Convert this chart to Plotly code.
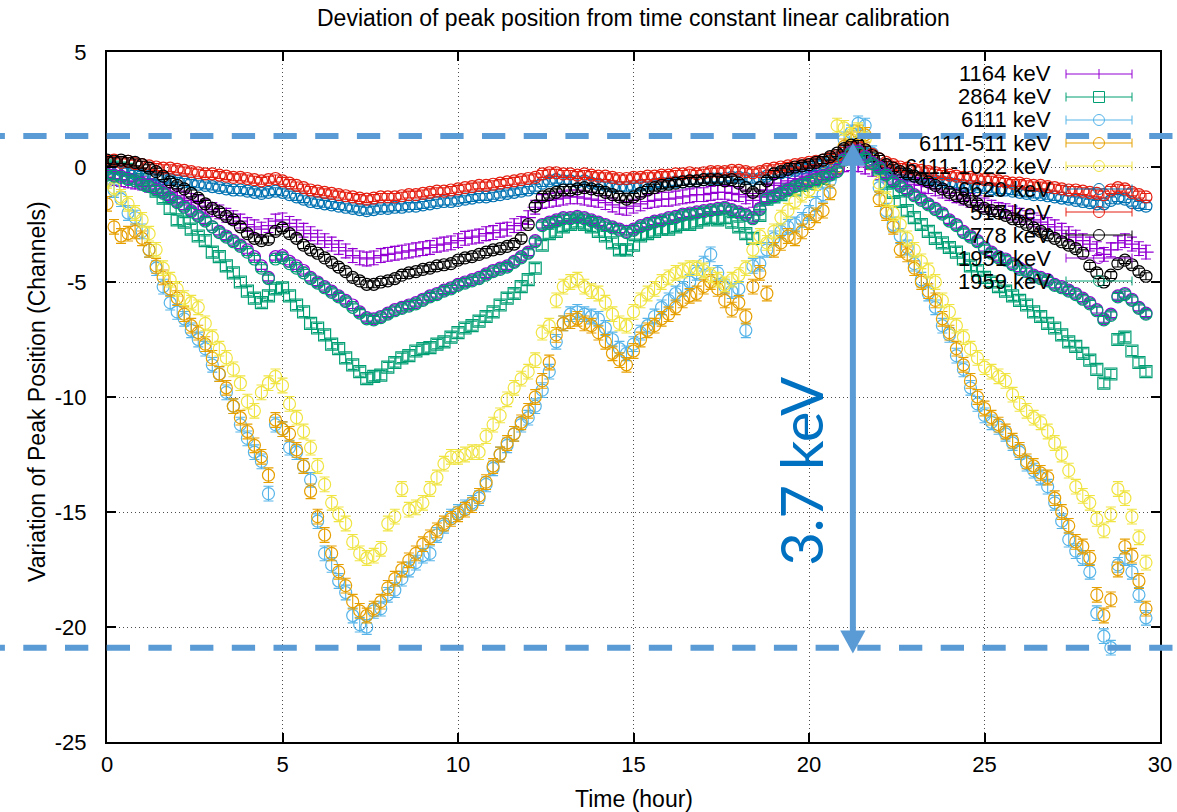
import plotly.graph_objects as go

# Measurement times (hours since start of run)
TIME_HOURS = [
    0.0, 0.2, 0.4, 0.6, 0.8, 1.0, 1.2, 1.4, 1.6, 1.8,
    2.0, 2.2, 2.4, 2.6, 2.8, 3.0, 3.2, 3.4, 3.6, 3.8,
    4.0, 4.2, 4.4, 4.6, 4.8, 5.0, 5.2, 5.4, 5.6, 5.8,
    6.0, 6.2, 6.4, 6.6, 6.8, 7.0, 7.2, 7.4, 7.6, 7.8,
    8.0, 8.2, 8.4, 8.6, 8.8, 9.0, 9.2, 9.4, 9.6, 9.8,
    10.0, 10.2, 10.4, 10.6, 10.8, 11.0, 11.2, 11.4, 11.6, 11.8,
    12.0, 12.2, 12.4, 12.6, 12.8, 13.0, 13.2, 13.4, 13.6, 13.8,
    14.0, 14.2, 14.4, 14.6, 14.8, 15.0, 15.2, 15.4, 15.6, 15.8,
    16.0, 16.2, 16.4, 16.6, 16.8, 17.0, 17.2, 17.4, 17.6, 17.8,
    18.0, 18.2, 18.4, 18.6, 18.8, 19.0, 19.2, 19.4, 19.6, 19.8,
    20.0, 20.2, 20.4, 20.6, 20.8, 21.0, 21.2, 21.4, 21.6, 21.8,
    22.0, 22.2, 22.4, 22.6, 22.8, 23.0, 23.2, 23.4, 23.6, 23.8,
    24.0, 24.2, 24.4, 24.6, 24.8, 25.0, 25.2, 25.4, 25.6, 25.8,
    26.0, 26.2, 26.4, 26.6, 26.8, 27.0, 27.2, 27.4, 27.6, 27.8,
    28.0, 28.2, 28.4, 28.6, 28.8, 29.0, 29.2, 29.4, 29.6,
]

# Peak position deviation (channels) per gamma line
DEV_1164 = [
    -0.45, -0.5, -0.55, -0.6, -0.65, -0.7, -0.8, -0.85, -0.95, -1.1,
    -1.25, -1.35, -1.45, -1.55, -1.7, -1.85, -1.95, -2.1, -2.2, -2.35,
    -2.5, -2.6, -2.7, -2.55, -2.35, -2.3, -2.45, -2.6, -2.75, -2.9,
    -3.05, -3.2, -3.35, -3.5, -3.65, -3.85, -3.95, -4.0, -3.95, -3.85,
    -3.8, -3.75, -3.7, -3.65, -3.6, -3.55, -3.5, -3.4, -3.35, -3.3,
    -3.2, -3.1, -3.05, -3.0, -2.9, -2.85, -2.75, -2.7, -2.55, -2.45,
    -2.2, -1.75, -1.5, -1.45, -1.4, -1.35, -1.3, -1.3, -1.35, -1.4,
    -1.45, -1.55, -1.65, -1.75, -1.8, -1.7, -1.6, -1.5, -1.45, -1.4,
    -1.4, -1.35, -1.3, -1.25, -1.2, -1.2, -1.15, -1.1, -1.1, -1.15,
    -1.2, -1.3, -1.45, -1.3, -1.0, -0.8, -0.7, -0.6, -0.5, -0.4,
    -0.3, -0.2, -0.15, -0.1, 0.0, 0.1, 0.15, 0.1, 0.0, -0.1,
    -0.25, -0.35, -0.45, -0.55, -0.65, -0.75, -0.8, -0.85, -0.95, -1.05,
    -1.15, -1.25, -1.35, -1.45, -1.55, -1.65, -1.75, -1.85, -1.9, -2.0,
    -2.1, -2.2, -2.3, -2.4, -2.5, -2.6, -2.75, -2.9, -3.05, -3.2,
    -3.35, -3.55, -3.8, -3.6, -3.3, -3.2, -3.35, -3.55, -3.7,
]

DEV_2864 = [
    0.05, 0.0, -0.05, -0.1, -0.25, -0.55, -0.8, -1.05, -1.35, -1.8,
    -2.3, -2.4, -2.7, -3.0, -3.2, -3.7, -3.9, -4.3, -4.6, -5.0,
    -5.4, -5.7, -5.9, -5.6, -5.3, -5.25, -5.6, -6.0, -6.3, -6.8,
    -7.0, -7.3, -7.7, -7.9, -8.3, -8.6, -8.9, -9.2, -9.1, -9.05,
    -8.7, -8.5, -8.3, -8.2, -8.0, -7.9, -7.85, -7.7, -7.6, -7.4,
    -7.2, -7.0, -6.9, -6.7, -6.5, -6.3, -6.0, -5.7, -5.5, -5.2,
    -4.9, -4.4, -3.4, -2.9, -2.8, -2.6, -2.5, -2.4, -2.5, -2.6,
    -2.8, -3.0, -3.3, -3.6, -3.6, -3.4, -3.0, -2.9, -2.8, -2.7,
    -2.7, -2.6, -2.5, -2.5, -2.4, -2.3, -2.2, -2.3, -2.2, -2.4,
    -2.6, -2.9, -3.1, -2.1, -1.4, -1.3, -1.2, -1.0, -1.0, -0.8,
    -0.7, -0.6, -0.5, -0.3, 0.0, 0.5, 0.8, 0.9, 0.6, 0.2,
    -0.1, -0.7, -1.1, -1.5, -1.9, -2.2, -2.5, -2.8, -3.1, -3.3,
    -3.5, -3.7, -4.0, -4.3, -4.5, -4.8, -5.0, -5.2, -5.4, -5.6,
    -5.8, -6.0, -6.3, -6.5, -6.8, -7.0, -7.3, -7.6, -7.8, -8.1,
    -8.4, -8.8, -9.4, -9.0, -7.5, -7.4, -8.0, -8.5, -8.9,
]

DEV_6111 = [
    -0.5, -1.0, -1.4, -2.0, -2.2, -2.8, -3.6, -4.4, -5.2, -5.9,
    -6.3, -6.6, -7.1, -7.5, -7.9, -8.6, -9.0, -9.8, -10.4, -11.2,
    -11.8, -12.4, -12.8, -14.2, -11.2, -11.4, -12.2, -12.4, -13.0, -13.6,
    -15.4, -16.8, -17.3, -18.0, -18.5, -19.5, -19.9, -20.0, -19.3, -19.2,
    -18.6, -18.4, -17.9, -17.5, -17.2, -16.9, -16.8, -16.0, -15.6, -15.2,
    -15.0, -14.8, -14.6, -14.4, -13.8, -13.1, -12.5, -12.1, -11.6, -11.2,
    -10.9, -10.4, -9.7, -8.9, -7.6, -6.8, -6.4, -6.3, -6.4, -6.5,
    -6.6, -7.0, -7.5, -7.9, -8.1, -7.7, -7.2, -6.9, -6.5, -6.1,
    -5.8, -5.5, -5.3, -5.0, -4.6, -4.2, -3.8, -4.6, -5.2, -5.4,
    -5.3, -7.1, -4.3, -4.2, -3.6, -3.1, -2.8, -2.6, -2.5, -2.3,
    -2.0, -1.6, -1.2, -0.6, 0.3, 1.2, 1.5, 1.9, 1.8, 0.6,
    -0.9, -1.9, -2.5, -3.0, -3.5, -4.2, -4.9, -5.5, -6.1, -6.9,
    -7.3, -8.2, -8.8, -9.6, -10.3, -10.8, -11.1, -11.3, -11.6, -12.0,
    -12.4, -12.9, -13.2, -13.5, -13.9, -14.6, -15.4, -16.2, -16.7, -17.0,
    -17.6, -19.4, -20.4, -20.9, -17.3, -17.0, -17.6, -18.6, -19.6,
]

DEV_6111_511 = [
    -1.6, -2.6, -3.0, -2.9, -2.8, -3.1, -3.6, -4.3, -4.8, -5.3,
    -5.7, -6.4, -6.9, -7.2, -7.7, -8.3, -9.0, -9.6, -10.4, -10.9,
    -11.5, -12.1, -12.6, -13.4, -11.0, -11.4, -11.6, -12.3, -13.0, -14.1,
    -15.2, -16.0, -16.8, -17.6, -18.2, -18.9, -19.3, -19.5, -19.2, -18.9,
    -18.3, -17.9, -17.5, -17.1, -16.8, -16.4, -16.1, -15.8, -15.5, -15.3,
    -15.1, -14.9, -14.7, -14.3, -13.7, -13.0, -12.5, -12.0, -11.6, -11.1,
    -10.6, -10.0, -9.3, -8.5, -7.3, -6.8, -6.7, -6.6, -6.8, -6.9,
    -7.2, -7.6, -8.1, -8.4, -8.6, -8.0, -7.5, -7.1, -6.9, -6.6,
    -6.4, -6.1, -5.8, -5.6, -5.5, -5.2, -5.0, -5.3, -5.8, -6.2,
    -5.9, -6.5, -5.2, -4.6, -5.5, -3.6, -3.3, -3.0, -3.1, -2.8,
    -2.4, -2.1, -1.9, -1.1, 0.0, 0.9, 1.2, 1.5, 1.4, 0.2,
    -1.4, -2.0, -2.6, -3.6, -3.8, -4.4, -5.0, -5.4, -5.8, -6.6,
    -7.2, -7.9, -8.6, -9.3, -10.0, -10.5, -10.9, -11.2, -11.5, -11.9,
    -12.3, -12.8, -13.0, -13.3, -13.5, -14.4, -15.0, -15.6, -16.3, -16.5,
    -17.0, -18.6, -19.5, -18.8, -17.5, -16.5, -16.9, -18.0, -19.2,
]

DEV_6111_1022 = [
    -0.6, -0.9, -1.3, -1.6, -2.0, -2.3, -2.9, -3.6, -4.4, -4.9,
    -5.3, -5.7, -5.9, -6.1, -6.8, -7.4, -7.9, -8.3, -8.8, -9.4,
    -10.2, -10.6, -9.8, -9.4, -9.1, -9.5, -10.3, -10.9, -11.5, -12.2,
    -13.0, -13.8, -14.6, -15.1, -15.5, -16.3, -16.8, -17.0, -16.9, -16.6,
    -15.5, -15.2, -14.0, -14.9, -14.8, -14.6, -14.0, -13.5, -12.9, -12.6,
    -12.6, -12.5, -12.4, -12.4, -11.7, -11.2, -10.8, -10.1, -9.6, -9.2,
    -8.9, -8.4, -7.2, -6.9, -5.8, -5.2, -5.0, -4.9, -5.2, -5.4,
    -5.5, -5.9, -6.4, -6.8, -6.9, -6.3, -5.8, -5.5, -5.3, -5.0,
    -4.8, -4.6, -4.5, -4.4, -4.4, -4.5, -4.7, -4.9, -5.1, -4.9,
    -4.7, -4.4, -3.6, -3.0, -3.3, -2.8, -2.2, -1.9, -1.5, -1.2,
    -1.0, -0.7, -0.4, 0.2, 1.8, 1.7, 1.4, 1.6, 1.2, 0.3,
    -0.7, -1.4, -2.0, -2.5, -3.1, -3.6, -4.1, -4.5, -5.0, -5.8,
    -6.3, -6.9, -7.4, -7.9, -8.3, -8.7, -8.9, -9.1, -9.3, -9.9,
    -10.3, -10.6, -10.9, -11.1, -11.5, -12.0, -12.5, -13.2, -13.9, -14.3,
    -14.6, -15.3, -15.8, -15.1, -14.0, -14.4, -15.2, -16.1, -17.2,
]

DEV_6620 = [
    -0.1, -0.05, -0.15, -0.2, -0.3, -0.35, -0.4, -0.45, -0.5, -0.55,
    -0.6, -0.65, -0.7, -0.75, -0.8, -0.85, -0.9, -0.95, -1.0, -1.0,
    -1.05, -1.1, -1.15, -1.1, -1.05, -1.1, -1.2, -1.3, -1.4, -1.5,
    -1.55, -1.6, -1.65, -1.7, -1.75, -1.8, -1.85, -1.9, -1.85, -1.8,
    -1.8, -1.75, -1.75, -1.7, -1.7, -1.65, -1.6, -1.55, -1.5, -1.5,
    -1.45, -1.4, -1.35, -1.3, -1.3, -1.25, -1.2, -1.15, -1.1, -1.05,
    -1.0, -0.9, -0.7, -0.6, -0.55, -0.6, -0.6, -0.65, -0.6, -0.7,
    -0.75, -0.8, -0.85, -0.9, -0.9, -0.85, -0.8, -0.8, -0.75, -0.7,
    -0.7, -0.65, -0.65, -0.6, -0.6, -0.55, -0.5, -0.5, -0.5, -0.45,
    -0.45, -0.5, -0.55, -0.5, -0.4, -0.3, -0.25, -0.2, -0.15, -0.05,
    0.0, 0.1, 0.15, 0.25, 0.4, 0.6, 0.75, 0.8, 0.6, 0.35,
    0.1, -0.05, -0.2, -0.3, -0.35, -0.4, -0.45, -0.55, -0.6, -0.65,
    -0.7, -0.75, -0.8, -0.85, -0.85, -0.9, -0.95, -1.0, -1.0, -1.05,
    -1.1, -1.15, -1.2, -1.2, -1.25, -1.3, -1.35, -1.4, -1.45, -1.5,
    -1.55, -1.6, -1.6, -1.45, -1.35, -1.4, -1.55, -1.65, -1.7,
]

DEV_517 = [
    0.25, 0.3, 0.2, 0.25, 0.15, 0.1, 0.05, 0.0, -0.05, -0.05,
    -0.1, -0.15, -0.2, -0.25, -0.3, -0.3, -0.35, -0.4, -0.45, -0.45,
    -0.5, -0.55, -0.6, -0.55, -0.5, -0.6, -0.7, -0.8, -0.9, -1.0,
    -1.05, -1.1, -1.15, -1.2, -1.25, -1.3, -1.35, -1.4, -1.35, -1.3,
    -1.3, -1.3, -1.25, -1.2, -1.2, -1.15, -1.1, -1.05, -1.05, -1.0,
    -0.95, -0.9, -0.85, -0.8, -0.8, -0.75, -0.7, -0.65, -0.6, -0.55,
    -0.5, -0.45, -0.3, -0.25, -0.25, -0.3, -0.3, -0.35, -0.3, -0.35,
    -0.4, -0.4, -0.45, -0.5, -0.5, -0.45, -0.45, -0.4, -0.4, -0.35,
    -0.35, -0.3, -0.3, -0.25, -0.3, -0.25, -0.2, -0.2, -0.2, -0.15,
    -0.15, -0.2, -0.25, -0.2, -0.1, -0.05, 0.0, 0.05, 0.1, 0.15,
    0.2, 0.25, 0.3, 0.4, 0.5, 0.7, 0.85, 0.9, 0.75, 0.55,
    0.35, 0.2, 0.1, 0.0, -0.05, -0.1, -0.15, -0.2, -0.25, -0.3,
    -0.35, -0.4, -0.45, -0.45, -0.5, -0.55, -0.55, -0.6, -0.65, -0.7,
    -0.7, -0.75, -0.8, -0.8, -0.85, -0.9, -0.95, -1.0, -1.0, -1.05,
    -1.1, -1.15, -1.2, -1.0, -0.9, -0.95, -1.1, -1.2, -1.3,
]

DEV_778 = [
    0.3, 0.25, 0.3, 0.25, 0.2, 0.1, -0.05, -0.2, -0.4, -0.65,
    -0.8, -0.95, -1.15, -1.35, -1.6, -1.8, -1.95, -2.15, -2.3, -2.6,
    -2.9, -3.1, -3.2, -3.15, -2.8, -2.65, -2.9, -3.1, -3.4, -3.6,
    -3.75, -3.95, -4.15, -4.35, -4.55, -4.8, -4.95, -5.1, -5.1, -5.0,
    -4.95, -4.85, -4.7, -4.6, -4.55, -4.45, -4.4, -4.3, -4.25, -4.2,
    -4.05, -3.95, -3.9, -3.8, -3.7, -3.6, -3.55, -3.45, -3.35, -3.1,
    -2.5, -1.7, -1.3, -1.2, -1.1, -1.0, -1.0, -0.95, -0.9, -0.95,
    -1.0, -1.1, -1.2, -1.3, -1.4, -1.3, -1.15, -1.0, -0.9, -0.8,
    -0.75, -0.7, -0.65, -0.6, -0.6, -0.55, -0.55, -0.55, -0.6, -0.55,
    -0.7, -0.9, -1.1, -0.9, -0.6, -0.3, -0.2, -0.1, 0.0, 0.05,
    0.1, 0.2, 0.3, 0.45, 0.6, 0.8, 0.95, 1.0, 0.75, 0.5,
    0.35, 0.1, -0.05, -0.2, -0.3, -0.4, -0.5, -0.65, -0.8, -0.95,
    -1.1, -1.25, -1.35, -1.5, -1.6, -1.8, -1.9, -2.0, -2.1, -2.25,
    -2.35, -2.5, -2.65, -2.8, -2.95, -3.1, -3.25, -3.4, -3.55, -3.75,
    -4.3, -4.6, -5.0, -4.7, -4.2, -4.05, -4.25, -4.55, -4.75,
]

DEV_1951 = [
    -0.3, -0.35, -0.4, -0.5, -0.6, -0.7, -0.8, -0.95, -1.1, -1.3,
    -1.5, -1.7, -1.9, -2.1, -2.3, -2.6, -2.8, -3.0, -3.2, -3.4,
    -3.6, -3.9, -4.3, -4.8, -3.9, -3.85, -4.1, -4.3, -4.5, -4.8,
    -5.0, -5.2, -5.4, -5.6, -5.8, -6.0, -6.3, -6.55, -6.6, -6.5,
    -6.35, -6.2, -6.1, -6.0, -5.9, -5.75, -5.6, -5.5, -5.35, -5.25,
    -5.1, -5.0, -4.9, -4.8, -4.65, -4.5, -4.4, -4.3, -4.1, -3.9,
    -3.7, -3.2, -2.5, -2.4, -2.3, -2.2, -2.2, -2.15, -2.2, -2.3,
    -2.4, -2.5, -2.6, -2.7, -2.8, -2.7, -2.55, -2.45, -2.35, -2.3,
    -2.2, -2.15, -2.05, -2.0, -1.95, -1.9, -1.85, -1.8, -1.75, -1.85,
    -1.95, -2.05, -2.2, -1.8, -1.35, -1.25, -1.1, -0.95, -0.8, -0.7,
    -0.6, -0.5, -0.4, -0.3, -0.15, 0.35, 0.65, 0.7, 0.45, 0.2,
    0.0, -0.3, -0.6, -0.8, -1.0, -1.2, -1.4, -1.6, -1.8, -2.0,
    -2.3, -2.5, -2.8, -3.0, -3.2, -3.5, -3.7, -3.9, -4.0, -4.2,
    -4.4, -4.5, -4.7, -4.8, -4.9, -5.1, -5.2, -5.35, -5.5, -5.7,
    -5.9, -6.2, -6.6, -6.4, -5.6, -5.5, -5.75, -6.1, -6.35,
]

DEV_1959 = [
    -0.35, -0.4, -0.45, -0.55, -0.6, -0.75, -0.85, -1.0, -1.15, -1.35,
    -1.55, -1.75, -1.95, -2.15, -2.35, -2.6, -2.85, -3.05, -3.25, -3.45,
    -3.7, -4.0, -4.4, -4.85, -4.0, -3.95, -4.2, -4.4, -4.6, -4.85,
    -5.05, -5.25, -5.45, -5.65, -5.85, -6.1, -6.35, -6.6, -6.65, -6.55,
    -6.4, -6.25, -6.15, -6.05, -5.95, -5.8, -5.65, -5.55, -5.4, -5.3,
    -5.15, -5.05, -4.95, -4.85, -4.7, -4.55, -4.45, -4.35, -4.15, -3.95,
    -3.75, -3.25, -2.55, -2.45, -2.35, -2.25, -2.25, -2.2, -2.25, -2.35,
    -2.45, -2.55, -2.65, -2.75, -2.85, -2.75, -2.6, -2.5, -2.4, -2.35,
    -2.25, -2.2, -2.1, -2.05, -2.0, -1.95, -1.9, -1.85, -1.8, -1.9,
    -2.0, -2.1, -2.25, -1.85, -1.4, -1.3, -1.15, -1.0, -0.85, -0.75,
    -0.65, -0.55, -0.45, -0.35, -0.2, 0.3, 0.6, 0.65, 0.4, 0.15,
    -0.05, -0.35, -0.65, -0.85, -1.05, -1.25, -1.45, -1.65, -1.85, -2.05,
    -2.35, -2.55, -2.85, -3.05, -3.25, -3.55, -3.75, -3.95, -4.05, -4.25,
    -4.45, -4.55, -4.75, -4.85, -4.95, -5.15, -5.25, -5.4, -5.55, -5.75,
    -5.95, -6.25, -6.65, -6.45, -5.65, -5.55, -5.8, -6.15, -6.4,
]

# Fit uncertainties (channels)
ERR_STRONG = 0.15
ERR_CROSS = 0.3
ERR_SQUARE = 0.2
ERR_6111 = 0.32

# Drift band edges (channels) and the energy span it corresponds to
BAND_TOP = 1.35
BAND_BOTTOM = -20.9
ARROW_TIME = 21.25
ARROW_TOP = 1.05
ARROW_BOTTOM = -21.15
SPAN_LABEL = "3.7 keV"

Y_TICKS = [5, 0, -5, -10, -15, -20, -25]
Y_TICK_TEXT = ["5", "0", "-5", "-10", "-15", "-20", "-25"]

LABELS = ["1164 keV", "2864 keV", "6111 keV", "6111-511 keV", "6111-1022 keV",
          "6620 keV", "517 keV", "778 keV", "1951 keV", "1959 keV"]
VALUES = [DEV_1164, DEV_2864, DEV_6111, DEV_6111_511, DEV_6111_1022,
          DEV_6620, DEV_517, DEV_778, DEV_1951, DEV_1959]
ERRORS = [ERR_CROSS, ERR_SQUARE, ERR_6111, ERR_6111, ERR_6111,
          ERR_STRONG, ERR_STRONG, ERR_STRONG, ERR_STRONG, ERR_STRONG]

# gnuplot-like line types: colour and point type
COLORS = ["#9400d3", "#009e73", "#56b4e9", "#e69f00", "#f0e442",
          "#0072b2", "#e51e10", "#000000", "#9400d3", "#009e73"]
SYMBOLS = ["cross-thin-open", "square-open", "circle-open", "circle-open", "circle-open",
           "circle-open", "circle-open", "circle-open", "circle-open", "circle-open"]

FONT = "Liberation Sans, Arial, Helvetica, sans-serif"
W, H = 1177, 812
L, R, T, B = 107, 17, 52, 70
PW, PH = W - L - R, H - T - B


def px_x(p):
    return (p - L) / PW


def px_y(p):
    return (H - B - p) / PH


fig = go.Figure()

for label, vals, err, color, sym in zip(LABELS, VALUES, ERRORS, COLORS, SYMBOLS):
    fig.add_trace(go.Scatter(
        x=TIME_HOURS, y=vals, mode="markers", name=label, showlegend=False,
        marker=dict(symbol=sym, size=12 if sym != "cross-thin-open" else 11,
                    color=color, line=dict(color=color, width=1.2)),
        error_y=dict(type="constant", value=err, color=color, thickness=1.1, width=5),
    ))

shapes = []
annotations = []

# white key box that hides the grid but stays beneath the data
shapes.append(dict(type="rect", xref="paper", yref="paper", layer="between",
                   x0=px_x(870), x1=px_x(1147), y0=px_y(293), y1=px_y(60),
                   fillcolor="white", line=dict(width=0)))

# key entries: right-aligned text, then an error-bar sample with its point
row0, row_step = 74, 23
for i, (label, color, sym) in enumerate(zip(LABELS, COLORS, SYMBOLS)):
    yy = row0 + i * row_step
    annotations.append(dict(text=label, xref="paper", yref="paper",
                            x=px_x(1052), y=px_y(yy), xanchor="right", yanchor="middle",
                            showarrow=False, borderpad=0,
                            font=dict(family=FONT, size=22, color="black")))
    ln = dict(color=color, width=1)
    shapes.append(dict(type="line", xref="paper", yref="paper",
                       x0=px_x(1066), x1=px_x(1132), y0=px_y(yy), y1=px_y(yy), line=ln))
    for cx in (1066, 1132):
        shapes.append(dict(type="line", xref="paper", yref="paper",
                           x0=px_x(cx), x1=px_x(cx), y0=px_y(yy - 4.5), y1=px_y(yy + 4.5), line=ln))
    if sym == "circle-open":
        shapes.append(dict(type="circle", xref="paper", yref="paper",
                           x0=px_x(1093.5), x1=px_x(1104.5), y0=px_y(yy - 5.5), y1=px_y(yy + 5.5),
                           line=ln, fillcolor="rgba(0,0,0,0)"))
    elif sym == "square-open":
        shapes.append(dict(type="rect", xref="paper", yref="paper",
                           x0=px_x(1093.5), x1=px_x(1104.5), y0=px_y(yy - 5.5), y1=px_y(yy + 5.5),
                           line=ln, fillcolor="rgba(0,0,0,0)"))
    else:
        shapes.append(dict(type="line", xref="paper", yref="paper",
                           x0=px_x(1099), x1=px_x(1099), y0=px_y(yy - 5), y1=px_y(yy + 5), line=ln))

# dashed band edges running across the whole figure
band_color = "#5b9bd5"
for yv in (BAND_TOP, BAND_BOTTOM):
    shapes.append(dict(type="line", xref="paper", yref="y",
                       x0=px_x(-18.4), x1=px_x(W + 10), y0=yv, y1=yv,
                       line=dict(color=band_color, width=6, dash="23.3px,18.4px")))

# double-headed arrow between the band edges
head_h, head_w = 1.0, 0.36
shapes.append(dict(type="line", xref="x", yref="y",
                   x0=ARROW_TIME, x1=ARROW_TIME, y0=ARROW_TOP - head_h + 0.1, y1=ARROW_BOTTOM + head_h - 0.1,
                   line=dict(color=band_color, width=6)))
shapes.append(dict(type="path", xref="x", yref="y", fillcolor=band_color, line=dict(width=0),
                   path=f"M {ARROW_TIME},{ARROW_TOP} L {ARROW_TIME - head_w},{ARROW_TOP - head_h} "
                        f"L {ARROW_TIME + head_w},{ARROW_TOP - head_h} Z"))
shapes.append(dict(type="path", xref="x", yref="y", fillcolor=band_color, line=dict(width=0),
                   path=f"M {ARROW_TIME},{ARROW_BOTTOM} L {ARROW_TIME - head_w},{ARROW_BOTTOM + head_h} "
                        f"L {ARROW_TIME + head_w},{ARROW_BOTTOM + head_h} Z"))

annotations.append(dict(text=SPAN_LABEL, x=19.75, y=-13.2, xref="x", yref="y",
                        textangle=-90, showarrow=False, xanchor="center", yanchor="middle",
                        font=dict(family="Lato, Open Sans, sans-serif", size=58, color="#0070c0")))

# titles
annotations.append(dict(text="Deviation of peak position from time constant linear calibration",
                        xref="paper", yref="paper", x=0.5, y=px_y(18), xanchor="center", yanchor="middle",
                        showarrow=False, font=dict(family=FONT, size=23, color="black")))
annotations.append(dict(text="Time (hour)", xref="paper", yref="paper", x=0.5, y=px_y(799),
                        xanchor="center", yanchor="middle", showarrow=False,
                        font=dict(family=FONT, size=23, color="black")))
annotations.append(dict(text="Variation of Peak Position (Channels)", xref="paper", yref="paper",
                        x=px_x(37), y=px_y(392), xanchor="center", yanchor="middle", textangle=-90,
                        showarrow=False, font=dict(family=FONT, size=23, color="black")))

axis_common = dict(showgrid=True, gridcolor="#4d4d4d", griddash="1px,3px", gridwidth=1,
                   showline=True, linecolor="black", linewidth=2, mirror="ticks",
                   ticks="inside", ticklen=9, tickwidth=1.5, tickcolor="black",
                   tickfont=dict(family=FONT, size=22, color="black"), zeroline=False)

fig.update_layout(
    width=W, height=H,
    margin=dict(l=L, r=R, t=T, b=B, autoexpand=False),
    paper_bgcolor="white", plot_bgcolor="white",
    xaxis=dict(range=[0, 30], tick0=0, dtick=5, ticklabelstandoff=2, **axis_common),
    yaxis=dict(range=[-25, 5], tickmode="array", tickvals=Y_TICKS, ticktext=Y_TICK_TEXT,
               ticklabelstandoff=14, **axis_common),
    shapes=shapes, annotations=annotations, showlegend=False,
)

fig.write_html("out.html")
